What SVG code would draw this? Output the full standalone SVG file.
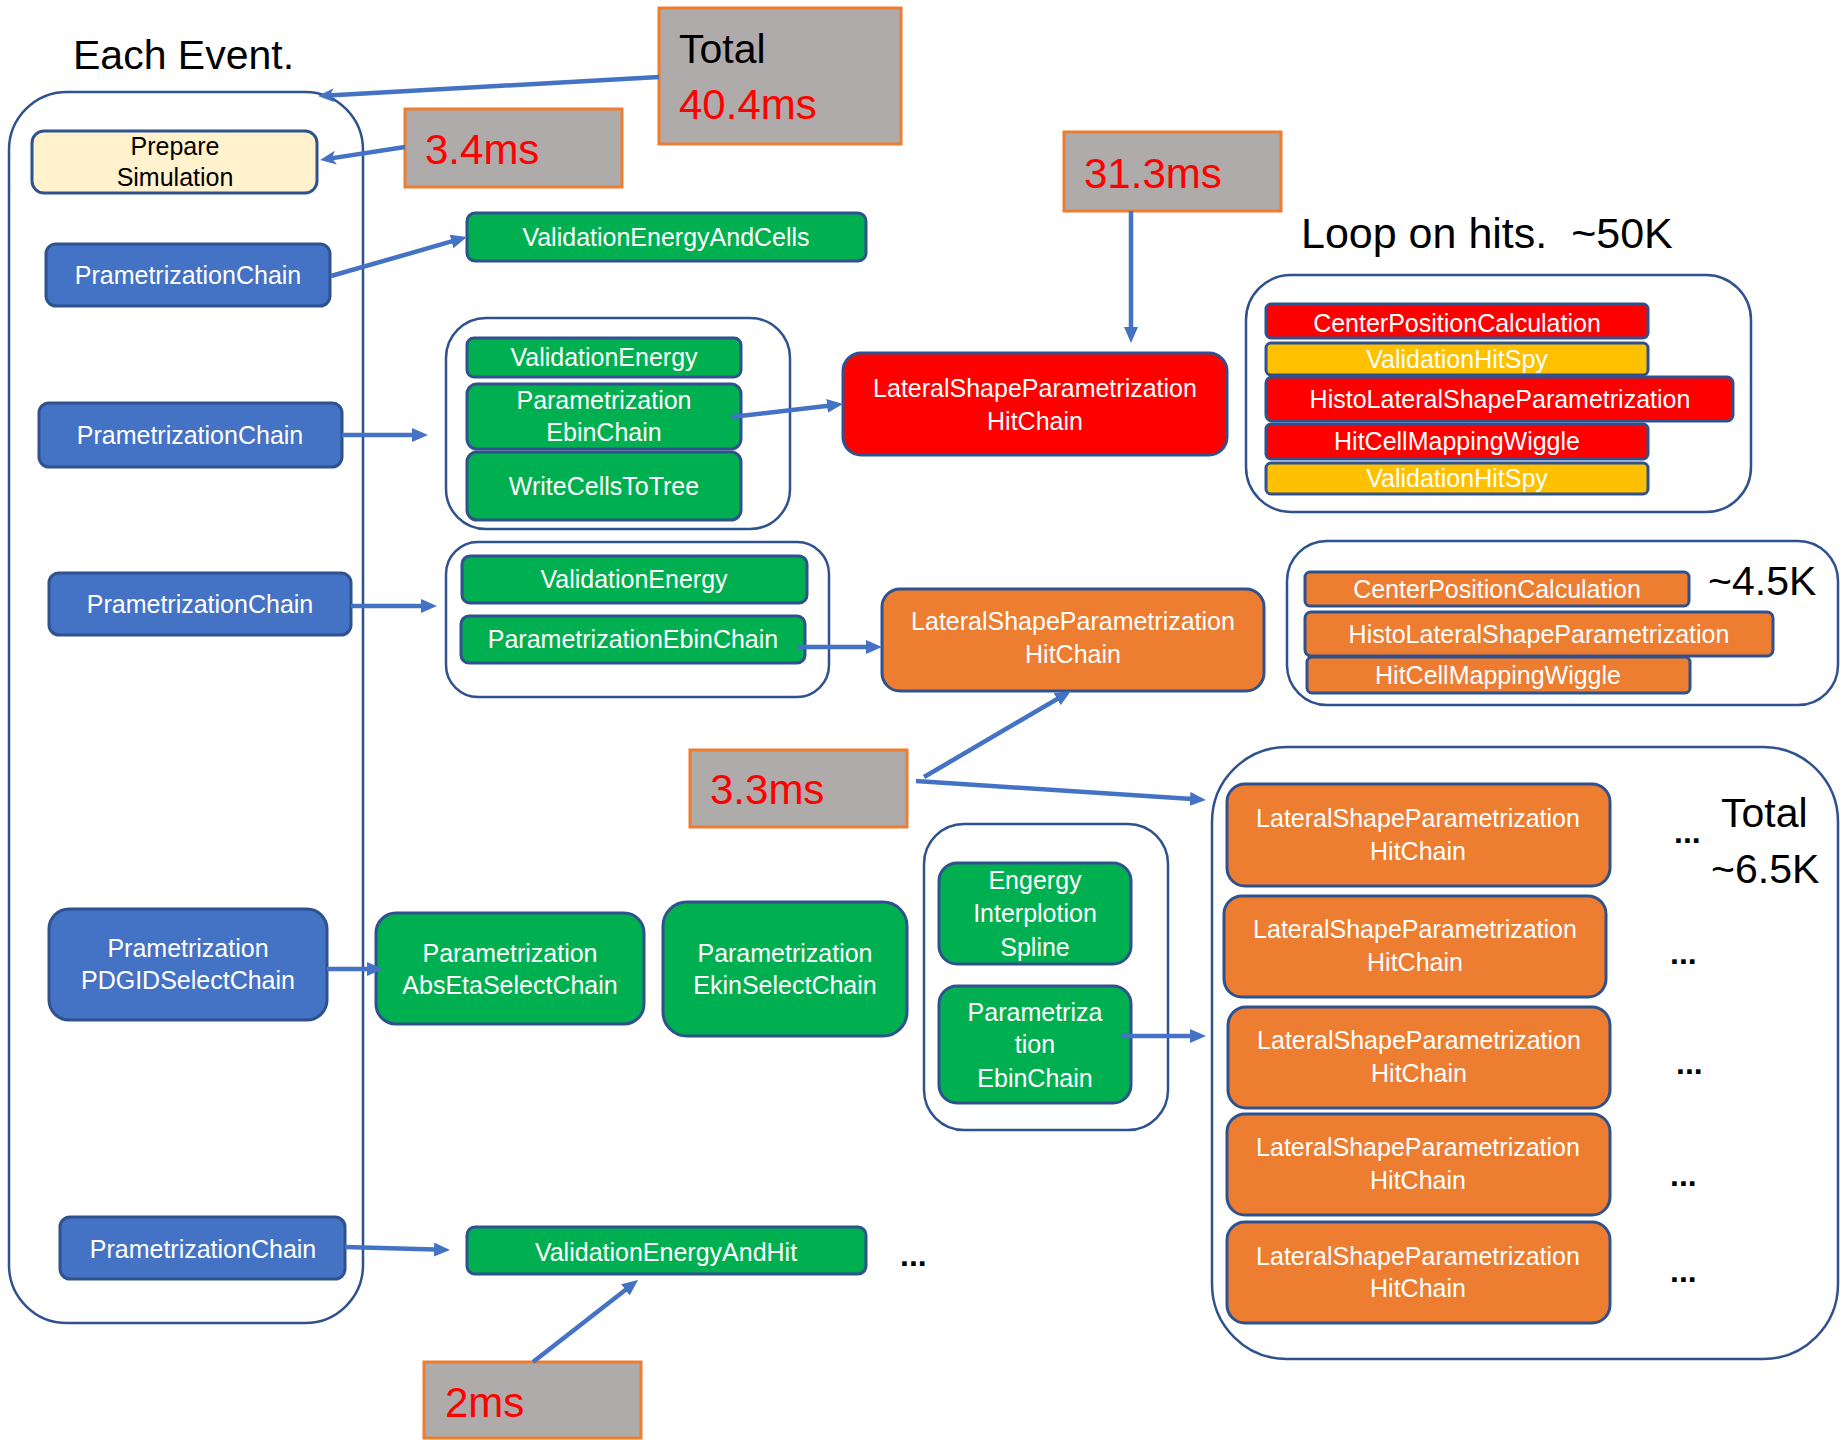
<svg xmlns="http://www.w3.org/2000/svg" width="1840" height="1440" viewBox="0 0 1840 1440">
<defs>
<style>
.box{stroke:#2F528F;stroke-width:3}
.blue{fill:#4472C4}.green{fill:#00B050}.red{fill:#FF0000}.orange{fill:#ED7D31}.yellow{fill:#FFC000}.cream{fill:#FFF2CC}
.cont{fill:none;stroke:#2F528F;stroke-width:2.5}
.gray{fill:#AFABAB;stroke:#ED7D31;stroke-width:3}
.t{font-family:"Liberation Sans",Arial,sans-serif;font-size:25px;fill:#FFFFFF;text-anchor:middle}
.tb{fill:#000000}
.big{font-family:"Liberation Sans",Arial,sans-serif;font-size:41px;fill:#000000}
.ms{font-family:"Liberation Sans",Arial,sans-serif;font-size:42px;fill:#FF0000}
.dots{font-family:"Liberation Sans",Arial,sans-serif;font-size:32px;font-weight:bold;fill:#000000}
.arr{fill:none;stroke:#4472C4;stroke-width:4.5}
</style>
<marker id="tri" viewBox="0 0 16 14" markerWidth="16" markerHeight="14" refX="10" refY="7" markerUnits="userSpaceOnUse" orient="auto"><path d="M0,0 L16,7 L0,14 z" fill="#4472C4"/></marker>
<marker id="stealth" viewBox="0 0 16 14" markerWidth="16" markerHeight="14" refX="10" refY="7" markerUnits="userSpaceOnUse" orient="auto"><path d="M0,0 L16,7 L0,14 L4,7 z" fill="#4472C4"/></marker>
</defs>
<rect width="1840" height="1440" fill="#FFFFFF"/>

<g id="title-each-event"><text class="big" x="73" y="69">Each Event.</text></g>
<g id="each-event-container"><rect class="cont" x="9" y="92" width="354" height="1231" rx="58"/></g>

<g id="total"><rect class="gray" x="659" y="8" width="242" height="136"/>
<text class="big" x="679" y="63">Total</text><text class="ms" x="679" y="119">40.4ms</text></g>

<g id="t34"><rect class="gray" x="405" y="109" width="217" height="78"/><text class="ms" x="425" y="164">3.4ms</text></g>

<g id="prepare"><rect class="box cream" x="32" y="131" width="285" height="62" rx="12"/>
<text class="t tb" x="175" y="155">Prepare</text><text class="t tb" x="175" y="186">Simulation</text></g>

<g id="pc1"><rect class="box blue" x="46" y="244" width="284" height="62" rx="10"/><text class="t" x="188" y="284">PrametrizationChain</text></g>
<g id="veac"><rect class="box green" x="467" y="213" width="399" height="48" rx="8"/><text class="t" x="666" y="246">ValidationEnergyAndCells</text></g>

<g id="contA"><rect class="cont" x="446" y="318" width="344" height="211" rx="40"/></g>
<g id="veA"><rect class="box green" x="467" y="338" width="274" height="39" rx="7"/><text class="t" x="604" y="366">ValidationEnergy</text></g>
<g id="pecA"><rect class="box green" x="467" y="384" width="274" height="65" rx="10"/><text class="t" x="604" y="409">Parametrization</text><text class="t" x="604" y="441">EbinChain</text></g>
<g id="wctt"><rect class="box green" x="467" y="452" width="274" height="68" rx="10"/><text class="t" x="604" y="495">WriteCellsToTree</text></g>
<g id="pc2"><rect class="box blue" x="39" y="403" width="303" height="64" rx="10"/><text class="t" x="190" y="444">PrametrizationChain</text></g>

<g id="lspRed"><rect class="box red" x="843" y="353" width="384" height="102" rx="18"/><text class="t" x="1035" y="397">LateralShapeParametrization</text><text class="t" x="1035" y="430">HitChain</text></g>

<g id="t313"><rect class="gray" x="1064" y="132" width="217" height="79"/><text class="ms" x="1084" y="188">31.3ms</text></g>
<g id="loop-title"><text class="big" x="1301" y="248" style="font-size:43px" xml:space="preserve">Loop on hits.  ~50K</text></g>
<g id="loopCont"><rect class="cont" x="1246" y="275" width="505" height="237" rx="45"/></g>
<g id="l1"><rect class="box red" x="1266" y="304" width="382" height="34" rx="5"/><text class="t" x="1457" y="332">CenterPositionCalculation</text></g>
<g id="l2"><rect class="box yellow" x="1266" y="343" width="382" height="32" rx="5"/><text class="t" x="1457" y="368">ValidationHitSpy</text></g>
<g id="l3"><rect class="box red" x="1266" y="377" width="467" height="44" rx="6"/><text class="t" x="1500" y="408">HistoLateralShapeParametrization</text></g>
<g id="l4"><rect class="box red" x="1266" y="424" width="382" height="35" rx="5"/><text class="t" x="1457" y="450">HitCellMappingWiggle</text></g>
<g id="l5"><rect class="box yellow" x="1266" y="463" width="382" height="31" rx="5"/><text class="t" x="1457" y="487">ValidationHitSpy</text></g>

<g id="pc3"><rect class="box blue" x="49" y="573" width="302" height="62" rx="10"/><text class="t" x="200" y="613">PrametrizationChain</text></g>
<g id="contB"><rect class="cont" x="446" y="542" width="383" height="155" rx="32"/></g>
<g id="veB"><rect class="box green" x="462" y="556" width="345" height="47" rx="8"/><text class="t" x="634" y="588">ValidationEnergy</text></g>
<g id="pecB"><rect class="box green" x="461" y="616" width="344" height="47" rx="8"/><text class="t" x="633" y="648">ParametrizationEbinChain</text></g>
<g id="lspMid"><rect class="box orange" x="882" y="589" width="382" height="102" rx="18"/><text class="t" x="1073" y="630">LateralShapeParametrization</text><text class="t" x="1073" y="663">HitChain</text></g>

<g id="k45Cont"><rect class="cont" x="1287" y="541" width="551" height="164" rx="40"/></g>
<g id="k45text"><text class="big" x="1708" y="595">~4.5K</text></g>
<g id="m1"><rect class="box orange" x="1305" y="572" width="384" height="34" rx="5"/><text class="t" x="1497" y="598">CenterPositionCalculation</text></g>
<g id="m2"><rect class="box orange" x="1305" y="612" width="468" height="44" rx="6"/><text class="t" x="1539" y="643">HistoLateralShapeParametrization</text></g>
<g id="m3"><rect class="box orange" x="1307" y="657" width="383" height="36" rx="5"/><text class="t" x="1498" y="684">HitCellMappingWiggle</text></g>

<g id="t33"><rect class="gray" x="690" y="750" width="217" height="77"/><text class="ms" x="710" y="804">3.3ms</text></g>

<g id="pdgid"><rect class="box blue" x="49" y="909" width="278" height="111" rx="20"/><text class="t" x="188" y="957">Prametrization</text><text class="t" x="188" y="989">PDGIDSelectChain</text></g>
<g id="abseta"><rect class="box green" x="376" y="913" width="268" height="111" rx="20"/><text class="t" x="510" y="962">Parametrization</text><text class="t" x="510" y="994">AbsEtaSelectChain</text></g>
<g id="ekin"><rect class="box green" x="663" y="902" width="244" height="134" rx="24"/><text class="t" x="785" y="962">Parametrization</text><text class="t" x="785" y="994">EkinSelectChain</text></g>

<g id="contC"><rect class="cont" x="924" y="824" width="244" height="306" rx="40"/></g>
<g id="spline"><rect class="box green" x="939" y="863" width="192" height="101" rx="18"/><text class="t" x="1035" y="889">Engergy</text><text class="t" x="1035" y="922">Interplotion</text><text class="t" x="1035" y="956">Spline</text></g>
<g id="pecC"><rect class="box green" x="939" y="986" width="192" height="117" rx="18"/><text class="t" x="1035" y="1021">Parametriza</text><text class="t" x="1035" y="1053">tion</text><text class="t" x="1035" y="1087">EbinChain</text></g>

<g id="k65Cont"><rect class="cont" x="1212" y="747" width="626" height="612" rx="75"/></g>
<g id="k65text"><text class="big" x="1721" y="827">Total</text><text class="big" x="1711" y="883">~6.5K</text></g>
<g id="o1"><rect class="box orange" x="1227" y="784" width="383" height="102" rx="18"/><text class="t" x="1418" y="827">LateralShapeParametrization</text><text class="t" x="1418" y="860">HitChain</text></g>
<g id="o2"><rect class="box orange" x="1224" y="896" width="382" height="101" rx="18"/><text class="t" x="1415" y="938">LateralShapeParametrization</text><text class="t" x="1415" y="971">HitChain</text></g>
<g id="o3"><rect class="box orange" x="1228" y="1007" width="382" height="101" rx="18"/><text class="t" x="1419" y="1049">LateralShapeParametrization</text><text class="t" x="1419" y="1082">HitChain</text></g>
<g id="o4"><rect class="box orange" x="1227" y="1114" width="383" height="101" rx="18"/><text class="t" x="1418" y="1156">LateralShapeParametrization</text><text class="t" x="1418" y="1189">HitChain</text></g>
<g id="o5"><rect class="box orange" x="1227" y="1222" width="383" height="101" rx="18"/><text class="t" x="1418" y="1265">LateralShapeParametrization</text><text class="t" x="1418" y="1297">HitChain</text></g>
<g id="dots">
<text class="dots" x="1674" y="843">...</text>
<text class="dots" x="1670" y="964">...</text>
<text class="dots" x="1676" y="1074">...</text>
<text class="dots" x="1670" y="1186">...</text>
<text class="dots" x="1670" y="1282">...</text>
<text class="dots" x="900" y="1266">...</text>
</g>

<g id="pc4"><rect class="box blue" x="60" y="1217" width="285" height="62" rx="10"/><text class="t" x="203" y="1258">PrametrizationChain</text></g>
<g id="veah"><rect class="box green" x="467" y="1227" width="399" height="47" rx="8"/><text class="t" x="666" y="1261">ValidationEnergyAndHit</text></g>
<g id="t2"><rect class="gray" x="424" y="1362" width="217" height="76"/><text class="ms" x="445" y="1417">2ms</text></g>

<g id="connectors">
<line class="arr" x1="659" y1="77" x2="324" y2="95.7" marker-end="url(#stealth)"/>
<line class="arr" x1="405" y1="147" x2="326" y2="159.1" marker-end="url(#stealth)"/>
<line class="arr" x1="331" y1="276" x2="461.2" y2="238.7" marker-end="url(#tri)"/>
<line class="arr" x1="342" y1="435" x2="422" y2="435" marker-end="url(#tri)"/>
<line class="arr" x1="731" y1="417" x2="837" y2="404.7" marker-end="url(#tri)"/>
<line class="arr" x1="1131" y1="211" x2="1131" y2="337" marker-end="url(#tri)"/>
<line class="arr" x1="351" y1="606" x2="431" y2="606" marker-end="url(#tri)"/>
<line class="arr" x1="797" y1="647" x2="876" y2="647" marker-end="url(#tri)"/>
<line class="arr" x1="924" y1="777" x2="1065.8" y2="694" marker-end="url(#tri)"/>
<line class="arr" x1="916" y1="781" x2="1200" y2="799.6" marker-end="url(#tri)"/>
<line class="arr" x1="327" y1="969" x2="377" y2="969" marker-end="url(#tri)"/>
<line class="arr" x1="1121" y1="1036" x2="1200" y2="1036" marker-end="url(#tri)"/>
<line class="arr" x1="345" y1="1247" x2="444" y2="1249.8" marker-end="url(#tri)"/>
<line class="arr" x1="533" y1="1362" x2="633.3" y2="1283.7" marker-end="url(#tri)"/>
</g>
</svg>
